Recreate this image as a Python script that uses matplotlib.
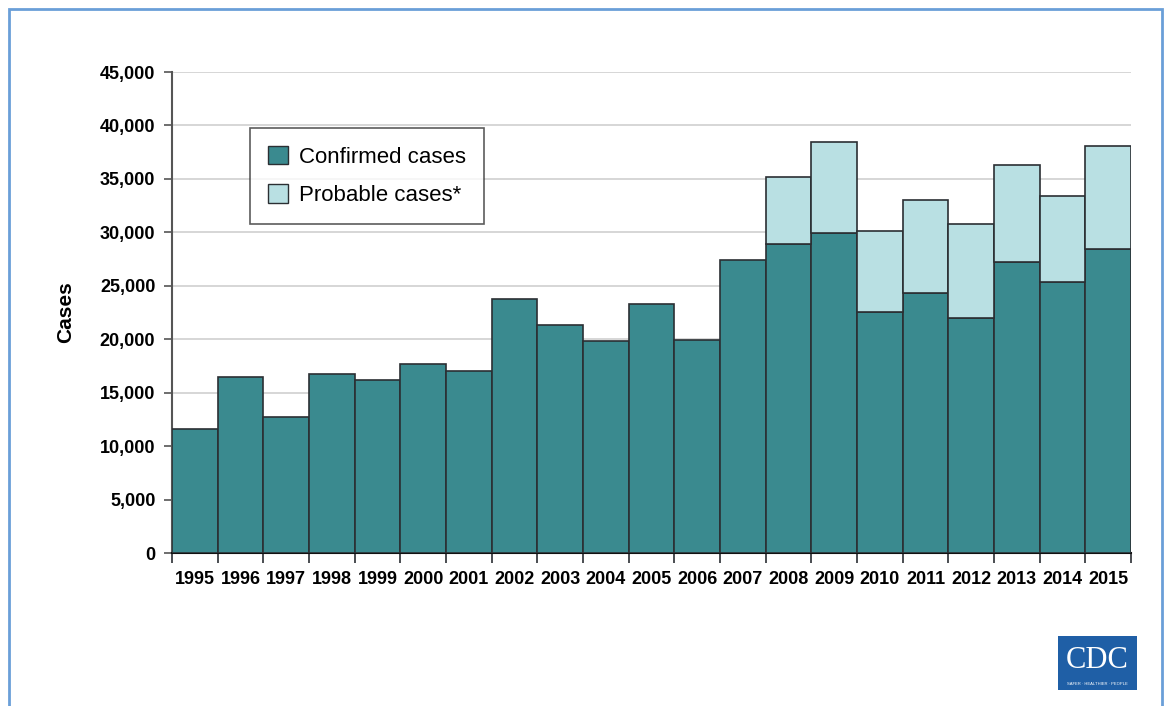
import matplotlib
matplotlib.use("Agg")
import matplotlib.pyplot as plt
from matplotlib.patches import Rectangle, Patch
import numpy as np

plt.rcParams['font.family'] = ['Liberation Sans', 'DejaVu Sans']

# Datos
years = [str(y) for y in range(1995, 2016)]
confirmed = [11600, 16450, 12750, 16750, 16200, 17700, 17030, 23760, 21300, 19830,
             23330, 19930, 27450, 28950, 29950, 22560, 24350, 22000, 27230, 25350, 28450]
probable = [0, 0, 0, 0, 0, 0, 0, 0, 0, 0,
            0, 0, 0, 6250, 8500, 7580, 8700, 8800, 9100, 8080, 9630]
yticks = list(range(0, 45001, 5000))

teal = '#3a8a8f'
light = '#b9e0e3'
edge = '#2b2f33'

fig = plt.figure(figsize=(11.64, 7.06), dpi=100)
ax = fig.add_axes([0.1478, 0.2167, 0.8238, 0.6813])

x = np.arange(len(years))
ax.bar(x, confirmed, width=1.0, color=teal, edgecolor=edge, linewidth=1.2, zorder=3)
ax.bar(x[13:], probable[13:], width=1.0, bottom=confirmed[13:], color=light,
       edgecolor=edge, linewidth=1.2, zorder=3)

ax.set_xlim(-0.5, len(years) - 0.5)
ax.set_ylim(0, 45000)
ax.set_yticks(yticks)
ax.set_yticklabels([f'{v:,}' for v in yticks], fontsize=13, fontweight='bold')
ax.set_xticks(x)
ax.set_xticklabels(years, fontsize=13, fontweight='bold')
ax.tick_params(axis='x', length=0, pad=13)
# marcas del eje x entre barras
ax.set_xticks(np.arange(-0.5, len(years) + 0.5, 1), minor=True)
ax.tick_params(axis='x', which='minor', length=7, width=1.2, color=edge)
ax.tick_params(axis='y', length=6, width=1.2, color='#555555', pad=6)

ax.yaxis.grid(True, color='#d0d0d0', linewidth=1.2, zorder=0)
ax.set_axisbelow(True)
for s in ['top', 'right']:
    ax.spines[s].set_visible(False)
ax.spines['left'].set_color('#555555')
ax.spines['left'].set_linewidth(1.5)
ax.spines['bottom'].set_color('#111111')
ax.spines['bottom'].set_linewidth(1.5)

ax.set_ylabel('Cases', fontsize=15, fontweight='bold', labelpad=18)

handles = [Patch(facecolor=teal, edgecolor=edge, label='Confirmed cases'),
           Patch(facecolor=light, edgecolor=edge, label='Probable cases*')]
leg = ax.legend(handles=handles, loc='upper left', bbox_to_anchor=(0.0813, 0.8836),
                borderaxespad=0, fontsize=16, frameon=True, fancybox=False,
                handlelength=0.9, handleheight=0.9, handletextpad=0.5,
                borderpad=0.8, labelspacing=0.75)
leg.get_frame().set_edgecolor('#333333')
leg.get_frame().set_linewidth(1.2)

# marco azul de la diapositiva
fig.patches.append(Rectangle((9 / 1164, -0.01), (1162 - 9) / 1164, 1 - 9 / 706 + 0.01,
                             transform=fig.transFigure, fill=False,
                             edgecolor='#6a9fd8', linewidth=2))

# logo CDC
fig.patches.append(Rectangle((1058 / 1164, 1 - 690 / 706), 79 / 1164, 54 / 706,
                             transform=fig.transFigure, facecolor='#1f5fa6',
                             edgecolor='none'))
fig.text(1097.5 / 1164, 1 - 660 / 706, 'CDC', color='white', fontsize=22,
         fontfamily='Liberation Serif', ha='center', va='center')
fig.text(1097.5 / 1164, 1 - 684 / 706, 'SAFER · HEALTHIER · PEOPLE', color='white',
         fontsize=3, ha='center', va='center')

fig.savefig('out.png', dpi=100)
